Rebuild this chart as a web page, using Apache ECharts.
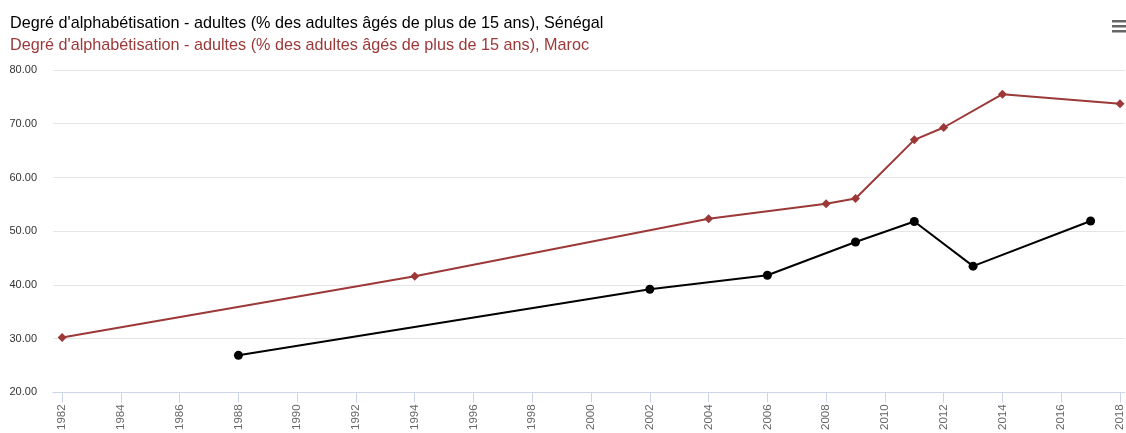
<!DOCTYPE html>
<html>
<head>
<meta charset="utf-8">
<title>Degré d'alphabétisation</title>
<script src="https://cdn.jsdelivr.net/npm/echarts@6/dist/echarts.min.js"></script>
<style>
  html, body { margin: 0; padding: 0; background: #fff; }
  #chart { width: 1126px; height: 433px; }
</style>
</head>
<body>
<div id="chart"></div>
<script>
"use strict";

// données
var senegalYears = [1988, 2002, 2006, 2009, 2011, 2013, 2017];
var senegalValues = [26.9, 39.2, 41.8, 48.0, 51.8, 43.5, 51.9];

var marocYears = [1982, 1994, 2004, 2008, 2009, 2011, 2012, 2014, 2018];
var marocValues = [30.2, 41.6, 52.3, 55.1, 56.1, 67.0, 69.3, 75.5, 73.7];

var tickYears = [];
for (var y = 1982; y <= 2018; y += 2) tickYears.push(y);

var yTicks = [20, 30, 40, 50, 60, 70, 80];

var senegalName = "Degré d'alphabétisation - adultes (% des adultes âgés de plus de 15 ans), Sénégal";
var marocName = "Degré d'alphabétisation - adultes (% des adultes âgés de plus de 15 ans), Maroc";

var marocColor = "#9c3838";

function pairs(xs, ys) {
  var out = [];
  for (var i = 0; i < xs.length; i++) out.push([xs[i], ys[i]]);
  return out;
}

var chart = echarts.init(document.getElementById("chart"));
chart.setOption({
  animation: false,
  textStyle: { fontFamily: "Liberation Sans, Arial, sans-serif" },
  title: {
    left: 5,
    top: 11,
    text: senegalName,
    subtext: marocName,
    itemGap: 6,
    textStyle: { color: "#000", fontSize: 16.2, fontWeight: "normal" },
    subtextStyle: { color: marocColor, fontSize: 16.2 }
  },
  graphic: [
    { type: "rect", left: 1112, top: 20, shape: { width: 14, height: 2.5 }, style: { fill: "#666" } },
    { type: "rect", left: 1112, top: 25, shape: { width: 14, height: 2.5 }, style: { fill: "#666" } },
    { type: "rect", left: 1112, top: 30, shape: { width: 14, height: 2.5 }, style: { fill: "#666" } }
  ],
  grid: { left: 53, right: 0, top: 70, bottom: 39 },
  xAxis: {
    type: "value",
    min: 1981.69,
    max: 2018.17,
    splitLine: { show: false },
    axisLine: { lineStyle: { color: "#ccd6eb", width: 1 } },
    axisTick: { customValues: tickYears, length: 10, lineStyle: { color: "#ccd6eb" } },
    axisLabel: {
      customValues: tickYears,
      rotate: 90,
      margin: 12,
      color: "#666",
      fontSize: 11.5,
      formatter: function(v) { return String(v); }
    }
  },
  yAxis: {
    type: "value",
    min: yTicks[0],
    max: yTicks[yTicks.length - 1],
    interval: 10,
    axisLine: { show: false },
    axisTick: { show: false },
    splitLine: { lineStyle: { color: "#e6e6e6" } },
    axisLabel: {
      color: "#333",
      fontSize: 11,
      margin: 16,
      formatter: function(v) { return v.toFixed(2); }
    }
  },
  series: [
    {
      name: marocName,
      type: "line",
      data: pairs(marocYears, marocValues),
      symbol: "diamond",
      symbolSize: 9,
      color: marocColor,
      lineStyle: { width: 2, color: marocColor },
      itemStyle: { color: marocColor }
    },
    {
      name: senegalName,
      type: "line",
      data: pairs(senegalYears, senegalValues),
      symbol: "circle",
      symbolSize: 9,
      color: "#000",
      lineStyle: { width: 2, color: "#000" },
      itemStyle: { color: "#000" }
    }
  ]
});
</script>
</body>
</html>
